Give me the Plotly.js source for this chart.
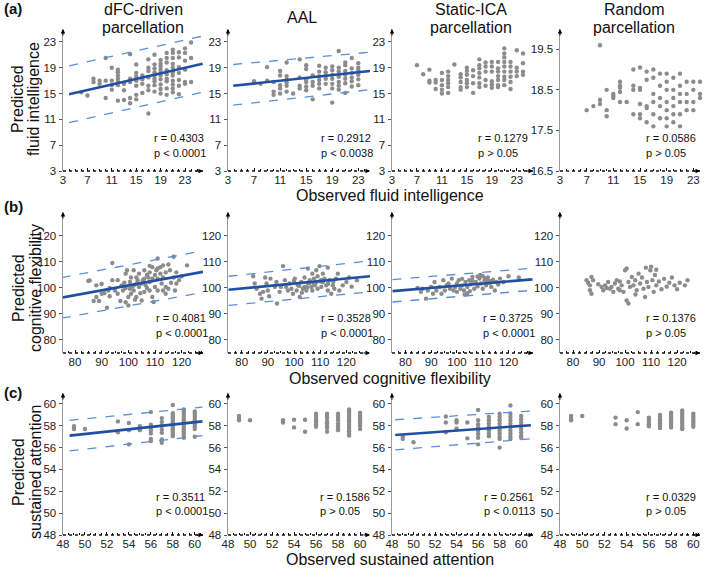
<!DOCTYPE html>
<html><head><meta charset="utf-8">
<script src="https://cdn.plot.ly/plotly-3.0.1.min.js"></script>
<style>html,body{margin:0;padding:0;background:#fff}#chart{width:709px;height:569px}</style>
</head><body><div id="chart"></div>
<script>
// ---------- Row (a): fluid intelligence, grouped as [observed, [predicted...]] ----------
const fluidDfc = [[6,[15.2]],[7,[14.7]],[8,[17.3,16.8]],[9,[17.0,16.5]],[10,[20.5,17.0,14.3]],[11,[19.0,17.0,16.3,15.6]],
 [12,[18.7,18.3,17.8,17.3,16.8,16.3,13.9]],[13,[16.5,15.5,14.0]],[14,[21.1,17.3,16.8,14.3,13.5]],[15,[19.5,18.2,17.6,17.0,16.2,14.8,14.1]],
 [16,[17.8,17.2,16.5,15.1]],[17,[20.3,19.0,18.5,17.5,16.2,15.5,11.9]],[18,[21.0,19.5,18.9,18.3,17.8,17.3,16.9,16.3,15.3]],
 [19,[20.2,19.6,19.2,18.7,18.2,17.8,17.2,16.4,15.7,15.0]],[20,[21.3,20.5,19.8,18.6,18.0,17.3,16.9,15.8,14.8]],
 [21,[21.8,21.3,20.5,19.6,19.0,18.3,17.8,17.0,16.4,15.8,15.2]],[22,[21.4,20.6,19.1,18.2,17.1,16.2,14.9]],[23,[22.0,21.3,20.1,18.7,16.8,16.5]],[24,[22.9,20.5,16.8]]];
const fluidAal = [[7,[16.9]],[8,[16.5]],[9,[19.1,17.0]],[10,[16.8,15.3,14.8]],[11,[18.5,17.8,16.3,15.8,15.0]],[12,[19.8,17.7,17.2,16.7,16.2,15.3]],
 [13,[15.0]],[14,[20.3,17.5,16.2,15.8]],[15,[19.4,18.8,17.2,16.8,16.1,15.5]],[16,[17.8,16.8,16.2,14.1]],[17,[19.3,18.4,17.7,17.1,16.5,15.8]],
 [18,[19.0,18.3,17.8,17.3,16.5]],[19,[19.2,18.6,17.9,17.3,16.5,15.8,13.6]],[20,[21.6,19.0,18.4,17.6,16.8,16.2,15.6]],
 [21,[19.8,19.4,18.5,17.9,17.3,16.6,15.1]],[22,[20.5,18.9,18.2,17.5,16.9,16.1]],[23,[19.7,19.0,18.6,17.9,17.2,16.3]]];
const fluidIca = [[7,[19.4]],[8,[18.0]],[9,[18.7,17.0,16.7]],[10,[17.1,16.7,15.7]],[11,[18.2,17.1,16.3,15.6,15.0]],[12,[18.4,17.7,17.1,16.6,16.0,15.1]],
 [13,[19.5]],[14,[18.0,17.5,16.8,16.0,15.6]],[15,[19.0,18.5,17.9,17.1,16.6,16.0]],[16,[18.6,17.7,16.6,15.1]],[17,[20.3,19.4,18.9,18.2,17.5,16.6,16.0]],
 [18,[19.8,19.2,18.4,17.1,16.2]],[19,[19.9,19.2,18.4,16.9,16.4,15.9]],[20,[19.9,18.9,18.4,17.7,17.1,16.3,16.0]],
 [21,[22.0,21.2,20.6,19.9,19.2,18.4,17.6,17.1,16.3]],[22,[19.9,19.2,18.4,17.6,16.8,15.7]],[23,[21.7,19.0,18.4,17.7]],[24,[21.2,19.7,18.4,17.9]]];
const fluidRnd = [[7,[18.0]],[8,[18.1]],[9,[19.6,18.25,18.15]],[10,[18.5,18.0,17.85]],[11,[18.4,18.35,18.3]],[12,[18.7,18.6,18.55,18.45,18.2]],
 [13,[18.2]],[14,[19.0,18.6,18.5,17.9]],[15,[19.05,18.55,18.5,18.15,17.9,17.8]],[16,[18.95,18.75,18.1,18.05,17.7]],
 [17,[19.0,18.8,18.4,18.2,17.9,17.6]],[18,[18.9,18.6,18.3,18.1,17.8]],[19,[18.9,18.7,18.5,18.2,18.0,17.8,17.6]],
 [20,[18.8,18.5,18.3,18.1,17.9,17.7]],[21,[18.9,18.6,18.4,18.2,17.9,17.6]],[22,[18.7,18.4,18.2,18.0]],[23,[18.7,18.5,18.2,18.0]],[24,[18.7,18.4,18.3]]];

// ---------- Row (b): cognitive flexibility ----------
const cogDfcObs  = [85,85.5,87,88,88,89,90,92,92.5,93,94,94,95,96,97,97.5,98,99,99.5,100,100,100.6,100.6,101,102,102,102,103,103,103.5,104,104,105,105,106,106,106.5,107,108,108,108,109,109,109,109.5,110,110.5,111,111,112,112,112.5,113,113,114,114,115,115.6,117,117,117.5,118,118,122,
  98.5,99,101,101.5,103,104.5,105.5,107,107.5,110,111,113,114,116,119,120,96,93,91,90,115,111,108,106,102.5,99];
const cogDfcPred = [102.7,102.9,95,101,96.5,95,97.8,92.4,99,96.8,109.6,103,99,97.8,95,101,99,105.5,106.8,93.3,96.5,102.3,99.7,97.8,101,106.8,99,104,96.5,103,105.5,100.4,101.7,95.2,106.8,103.6,101,105,99,106,102.3,108,103.6,96.5,94.6,100.4,106.8,111.3,103.6,108,105.5,101.7,108.7,99,97.8,100.4,99.7,106.8,112,104,99,101.7,106,108.7,
  102,100,104,100.5,101.5,98,103,100,104,105,99,104,106,102,103,104.5,103,100,98,101.5,109,107.5,108.5,98.5,95.5,94.5];
const cogAalObs  = [84.4,85,85.7,87,87.6,88.2,89,89.5,90,90.5,91,92.7,93.3,93.5,94.5,95,95.8,96.5,97,97.7,98.3,99,99.6,100.3,101,101.5,102.2,102.8,103.4,104,104,104.7,105.3,105.3,106,106.6,107,107,107.6,107.6,108.5,108.5,109,109,109.7,110.4,110.4,111,111.6,112.3,112.9,112.9,113.5,114.2,114.8,115.4,116,116.7,117.3,118.6,120,121,122,124,
  100,102,106,108,110,111,113,115,105,103];
const cogAalPred = [104.5,101.7,99.7,97.8,95.9,98.5,104,101.7,99,96.8,103.6,100.4,102.3,94,98.5,100.4,108.4,103,100.4,99,101.7,99.7,97.8,103.6,99,101,96.5,102.3,99.7,104,100.4,99,101.7,107.5,103,100.4,105.5,99,103.6,101.7,106.8,102.3,104.5,99.7,108.4,103,100.4,105.5,103.6,101,107.8,99,103,97.8,101,99.7,103.6,105.5,99,101,102.3,104,100.5,103,
  102.8,100.8,102,101,102.6,102.2,101.6,102.4,100.2,98.2];
const cogIcaObs  = [84.7,86,86.7,88,88.7,90,90.7,91.3,92,93.3,94,94.7,95.3,96,96.7,97.3,98,98.7,99.3,100,100.7,101.3,102,102.7,103.3,104,104.7,105.3,106,106.7,107.3,108,108.7,109.3,110,110.7,111.3,112,112.7,113.3,114,114.7,115.3,116,116.7,118,120,124,
  100,102,104,106,108,110,112,105,103,109,111,113];
const cogIcaPred = [100,98.5,99.7,95.9,99,100.4,97.8,102.3,99,100.4,97.8,103,99,101,101.7,99.7,103.6,99,100.4,101.7,103,99.7,101,99,102.3,100.4,103,101.4,104.2,99.7,102.3,100.6,103.6,101.7,99.7,103,101,104,102,100.4,103.2,99,102.3,101.3,103.6,102.3,104.5,104,
  98.5,103.5,98,102.8,104.4,104.6,102.6,98.8,97.5,105,103.8,102.6];
const cogRndObs  = [85.2,85.8,86.5,87.1,87.7,86.5,87.1,89.7,91,91.6,92.3,92.9,93.5,94.2,94.8,95.5,96.1,96.8,97.4,98,98.7,99.4,100,100.6,100.6,101.3,101.3,101.9,102.6,103.2,103.9,104.5,105.2,105.8,106.5,107.1,107.7,108.4,109,109.7,
  110.5,111,111.5,112,113,114,115,116,117,118,119,120,121,123,124,108,110,112,104,98];
const cogRndPred = [103,102,101,104.2,103,99.1,97.8,101.4,100.4,99.1,101,100,102.3,99.7,100.4,98.5,101.7,103,99.7,99.1,101,98.5,106.8,107.5,95.2,94,102.3,100.4,104.2,101,103,99.1,105.5,101.7,104,99.7,96.5,102.3,100.4,106.8,
  103,98.5,105,101,102.5,99.5,103.5,100.5,102,104,101,99.5,102,101,103,107.8,108.2,107,97.5,102.5];

// ---------- Row (c): sustained attention ----------
const sustDfc = [[49,[57.95,57.7]],[50,[57.7]],[53,[58.4,57.4]],[54,[58.25,57.6,56.3]],[55,[57.95,57.6]],
 [56,[59.25,58.1,57.8,57.6,57.3,56.8,56.6]],[57,[58.7,58.35,58.0,57.65,57.35,56.75,56.45]],
 [58,[59.9,59.15,59.0,58.85,58.7,58.55,58.4,58.25,58.1,57.95,57.8,57.65,57.5,57.35,57.2,57.05]],
 [59,[59.5,59.3,59.1,58.9,58.7,58.5,58.3,58.1,57.9,57.7,57.5,57.3,57.1,56.9]],[60,[59.3,59.1,58.9,58.7,58.5,58.3,58.1,57.9,57.7,57.0]]];
const sustAal = [[49,[58.9,58.7,58.5]],[50,[58.5]],[53,[58.5,58.3]],[54,[58.55,57.85]],[55,[58.55,57.45]],
 [56,[59.1,58.9,58.7,58.5,58.3,58.1,57.9]],[57,[59.1,58.9,58.7,58.4,58.2,58.0,57.8,57.45]],[58,[59.1,58.9,58.7,58.5,58.2,58.0,57.8,57.6]],
 [59,[59.5,59.3,59.1,58.9,58.7,58.5,58.3,58.1,57.9,57.7,57.5,57.3,57.1]],[60,[59.2,59.0,58.8,58.6,58.4,58.2,58.0,57.7]]];
const sustIca = [[49,[57.0,56.8]],[50,[56.5]],[53,[58.85,58.3,57.4]],[54,[58.5,58.3,57.75]],[55,[58.3,56.85]],
 [56,[59.45,58.5,58.15,57.85,57.55,57.25,56.9,56.3]],[57,[58.8,58.5,58.2,57.9,57.6,57.3,57.05]],
 [58,[59.1,58.8,58.5,58.2,57.9,57.6,57.3,57.0,56.8,56.0]],[59,[59.85,59.1,58.8,58.5,58.2,57.9,57.6,57.3,57.0,56.8]],
 [60,[58.9,58.6,58.3,58.0,57.7,57.4,57.1,56.9]]];
const sustRnd = [[49,[58.9,58.7,58.5]],[50,[58.9]],[53,[58.75,58.15]],[54,[58.5,57.75]],[55,[59.25,58.15]],
 [56,[58.75,58.55,58.35,58.15,57.95]],[57,[59.0,58.8,58.6,58.4,58.2,58.0,57.8]],[58,[59.2,59.0,58.8,58.6,58.4,58.2,58.0,57.85]],
 [59,[59.4,59.2,59.0,58.8,58.6,58.4,58.2,58.0,57.8,57.7]],[60,[59.1,58.9,58.7,58.5,58.3,58.1,57.9]]];

// ---------- Fitted lines and prediction bounds (x ends, fit, upper, lower) ----------
const fluidDfcFitX = [4, 25.9],  fluidDfcFit = [14.9, 19.6], fluidDfcHi = [19.3, 23.9], fluidDfcLo = [10.5, 15.2];
const fluidAalFitX = [3.8, 24.8], fluidAalFit = [16.2, 18.5], fluidAalHi = [19.5, 21.4], fluidAalLo = [13.2, 15.6];
const cogDfcFitX = [75, 128],   cogDfcFit = [96.3, 106.2], cogDfcHi = [104, 114.3], cogDfcLo = [88.4, 98.3];
const cogAalFitX = [75, 129],   cogAalFit = [99.3, 104.5], cogAalHi = [104.5, 110.4], cogAalLo = [93.3, 98.5];
const cogIcaFitX = [75, 129.3], cogIcaFit = [98.8, 103.3], cogIcaHi = [103.2, 107.6], cogIcaLo = [94.6, 99.1];
const sustDfcFitX = [48.6, 60.7], sustDfcFit = [57.1, 58.4], sustDfcHi = [58.5, 59.7], sustDfcLo = [55.7, 57.1];
const sustIcaFitX = [48.3, 60.9], sustIcaFit = [57.15, 58.05], sustIcaHi = [58.55, 59.35], sustIcaLo = [55.8, 56.8];

// ---------- Text ----------
const colTitles = [['dFC-driven','parcellation'], ['AAL'], ['Static-ICA','parcellation'], ['Random','parcellation']];
const rowXTitles = ['Observed fluid intelligence', 'Observed cognitive flexibility', 'Observed sustained attention'];
const rowYTitles = [['Predicted','fluid intelligence'], ['Predicted','cognitive flexibility'], ['Predicted','sustained attention']];
const rowLabels = ['(a)', '(b)', '(c)'];
const rText = [['r = 0.4303','r = 0.2912','r = 0.1279','r = 0.0586'],['r = 0.4081','r = 0.3528','r = 0.3725','r = 0.1376'],['r = 0.3511','r = 0.1586','r = 0.2561','r = 0.0329']];
const pText = [['p < 0.0001','p < 0.0038','p > 0.05','p > 0.05'],['p < 0.0001','p < 0.0001','p < 0.0001','p > 0.05'],['p < 0.0001','p > 0.05','p < 0.0113','p > 0.05']];

// ticks
const fluidTicks = [3,7,11,15,19,23], fluidRndTicks = [16.5,17.5,18.5,19.5];
const cogTicks = [80,90,100,110,120], sustTicks = [48,50,52,54,56,58,60];

// ---------- build ----------
const W = 709, H = 569;
const colPx = [[63,203],[228,370],[392,533],[560,700]];
const rowPx = [[29,171],[212,353],[393,535]];
function expand(g){const x=[],y=[];g.forEach(([o,ps])=>ps.forEach(p=>{x.push(o);y.push(p);}));return {x,y};}

const panels = [
 {pts:expand(fluidDfc), fit:[fluidDfcFitX,fluidDfcFit,fluidDfcHi,fluidDfcLo], xr:[3,25.95], yr:[3,25], xt:fluidTicks, yt:fluidTicks},
 {pts:expand(fluidAal), fit:[fluidAalFitX,fluidAalFit,fluidAalHi,fluidAalLo], xr:[3,24.8], yr:[3,25], xt:fluidTicks, yt:fluidTicks},
 {pts:expand(fluidIca), fit:null, xr:[3,25.6], yr:[3,25], xt:fluidTicks, yt:fluidTicks},
 {pts:expand(fluidRnd), fit:null, xr:[3,24], yr:[16.5,20], xt:fluidTicks, yt:fluidRndTicks},
 {pts:{x:cogDfcObs,y:cogDfcPred}, fit:[cogDfcFitX,cogDfcFit,cogDfcHi,cogDfcLo], xr:[75.5,128], yr:[75,129.2], xt:cogTicks, yt:cogTicks},
 {pts:{x:cogAalObs,y:cogAalPred}, fit:[cogAalFitX,cogAalFit,cogAalHi,cogAalLo], xr:[74.8,129], yr:[75,129.2], xt:cogTicks, yt:cogTicks},
 {pts:{x:cogIcaObs,y:cogIcaPred}, fit:[cogIcaFitX,cogIcaFit,cogIcaHi,cogIcaLo], xr:[74.8,129.5], yr:[75,129.2], xt:cogTicks, yt:cogTicks},
 {pts:{x:cogRndObs,y:cogRndPred}, fit:null, xr:[75,128.8], yr:[75,129.2], xt:cogTicks, yt:cogTicks},
 {pts:expand(sustDfc), fit:[sustDfcFitX,sustDfcFit,sustDfcHi,sustDfcLo], xr:[48,60.75], yr:[48,61], xt:sustTicks, yt:sustTicks},
 {pts:expand(sustAal), fit:null, xr:[48,60.9], yr:[48,61], xt:sustTicks, yt:sustTicks},
 {pts:expand(sustIca), fit:[sustIcaFitX,sustIcaFit,sustIcaHi,sustIcaLo], xr:[48,61.1], yr:[48,61], xt:sustTicks, yt:sustTicks},
 {pts:expand(sustRnd), fit:null, xr:[48,60.6], yr:[48,61], xt:sustTicks, yt:sustTicks}
];
const minorStep = [1, 2.5, 0.5];
const rStart = [[152,319,476,644],[154,319,481,644],[154,318,482,644]];
const rY = [[138,153],[318,333],[497,511]];

const FONT = 'Liberation Sans, Arial, sans-serif';
const traces = [], layout = {
  width: W, height: H, margin:{l:0,r:0,t:0,b:0}, paper_bgcolor:'#fff', plot_bgcolor:'rgba(0,0,0,0)',
  showlegend:false, font:{family:FONT, color:'#222', size:12}, annotations:[], shapes:[]
};
const px = v => v/W, py = v => 1 - v/H;

panels.forEach((p,i)=>{
  const r = Math.floor(i/4), c = i%4, s = i===0 ? '' : String(i+1);
  const xa = 'x'+s, ya = 'y'+s;
  traces.push({type:'scatter', mode:'markers', x:p.pts.x, y:p.pts.y, xaxis:xa, yaxis:ya, cliponaxis:false,
    marker:{color:'#8c8c8c', size:4.4}, hoverinfo:'skip'});
  if(p.fit){
    const [fx,fy,fh,fl] = p.fit;
    [fh,fl].forEach(b=>traces.push({type:'scatter', mode:'lines', x:fx, y:b, xaxis:xa, yaxis:ya,
      line:{color:'#5b8fd3', width:1.3, dash:'dash'}, hoverinfo:'skip'}));
    traces.push({type:'scatter', mode:'lines', x:fx, y:fy, xaxis:xa, yaxis:ya,
      line:{color:'#1f50a2', width:2.6}, hoverinfo:'skip'});
  }
  layout['xaxis'+s] = {domain:[px(colPx[c][0]), px(colPx[c][1])], anchor:ya, range:p.xr,
    tickmode:'array', tickvals:p.xt, ticks:'inside', ticklen:3, tickwidth:1, tickcolor:'#000',
    minor:{ticks:'inside', ticklen:2, tickcolor:'#000', tickmode:'linear', tick0:p.xt[0], dtick:minorStep[r]},
    showline:false, showgrid:false, zeroline:false, tickfont:{size:11.5, color:'#222', family:FONT}, fixedrange:true};
  layout['yaxis'+s] = {domain:[py(rowPx[r][1]), py(rowPx[r][0])], anchor:xa, range:p.yr,
    tickmode:'array', tickvals:p.yt, ticks:'outside', ticklen:3, tickwidth:1, tickcolor:'#555',
    showline:true, linecolor:'#9a9a9a', linewidth:1.5, showgrid:false, zeroline:false,
    tickfont:{size:11.5, color:'#222', family:FONT}, fixedrange:true};
  // dotted x axis line
  layout.shapes.push({type:'line', xref:xa+' domain', yref:ya+' domain', x0:0, x1:1, y0:0, y1:0,
    line:{color:'#111', width:1.5, dash:'dot'}});
  // arrows
  layout.annotations.push({xref:xa+' domain', yref:ya+' domain', x:0, y:1, ax:0, ay:8, axref:'pixel', ayref:'pixel',
    text:'', showarrow:true, arrowhead:2, arrowsize:0.9, arrowwidth:1, arrowcolor:'#000'});
  layout.annotations.push({xref:xa+' domain', yref:ya+' domain', x:1, y:0, ax:-8, ay:0, axref:'pixel', ayref:'pixel',
    text:'', showarrow:true, arrowhead:2, arrowsize:0.9, arrowwidth:1, arrowcolor:'#000'});
  // r / p text
  layout.annotations.push({xref:'paper', yref:'paper', x:px(rStart[r][c]), y:py(rY[r][0]), xanchor:'left', yanchor:'middle',
    text:rText[r][c], showarrow:false, font:{size:11, color:'#111'}});
  layout.annotations.push({xref:'paper', yref:'paper', x:px(rStart[r][c]), y:py(rY[r][1]), xanchor:'left', yanchor:'middle',
    text:pText[r][c], showarrow:false, font:{size:11, color:'#111'}});
});

// column titles (one annotation per line)
const colTitleX = [143, 302, 471, 634];
colTitles.forEach((lines,c)=>{
  const ys = lines.length === 1 ? [17.5] : [9.5, 27.5];
  lines.forEach((t,k)=>layout.annotations.push({xref:'paper', yref:'paper', x:px(colTitleX[c]), y:py(ys[k]), xanchor:'center', yanchor:'middle',
    text:t, showarrow:false, font:{size:16, color:'#111'}}));
});
// row x titles
const rowXTitleY = [196, 378, 559];
rowXTitles.forEach((t,r)=>layout.annotations.push({xref:'paper', yref:'paper', x:px(390), y:py(rowXTitleY[r]),
  xanchor:'center', yanchor:'middle', text:t, showarrow:false, font:{size:16, color:'#111'}}));
// row y titles (two rotated lines)
const rowYCenter = [99, 288, 472], yLine1X = [18, 18, 18], yLine2X = [34, 35, 35];
rowYTitles.forEach((pair,r)=>{
  layout.annotations.push({xref:'paper', yref:'paper', x:px(yLine1X[r]), y:py(rowYCenter[r]), xanchor:'center', yanchor:'middle',
    text:pair[0], textangle:-90, showarrow:false, font:{size:16, color:'#111'}});
  layout.annotations.push({xref:'paper', yref:'paper', x:px(yLine2X[r]), y:py(rowYCenter[r]), xanchor:'center', yanchor:'middle',
    text:pair[1], textangle:-90, showarrow:false, font:{size:16, color:'#111'}});
});
// panel labels
const rowLabelY = [8, 207, 392];
rowLabels.forEach((t,r)=>layout.annotations.push({xref:'paper', yref:'paper', x:px(2), y:py(rowLabelY[r]), xanchor:'left', yanchor:'middle',
  text:'<b>'+t+'</b>', showarrow:false, font:{size:15, color:'#111'}}));

Plotly.newPlot('chart', traces, layout, {staticPlot:true, displayModeBar:false});
</script>
</body></html>
